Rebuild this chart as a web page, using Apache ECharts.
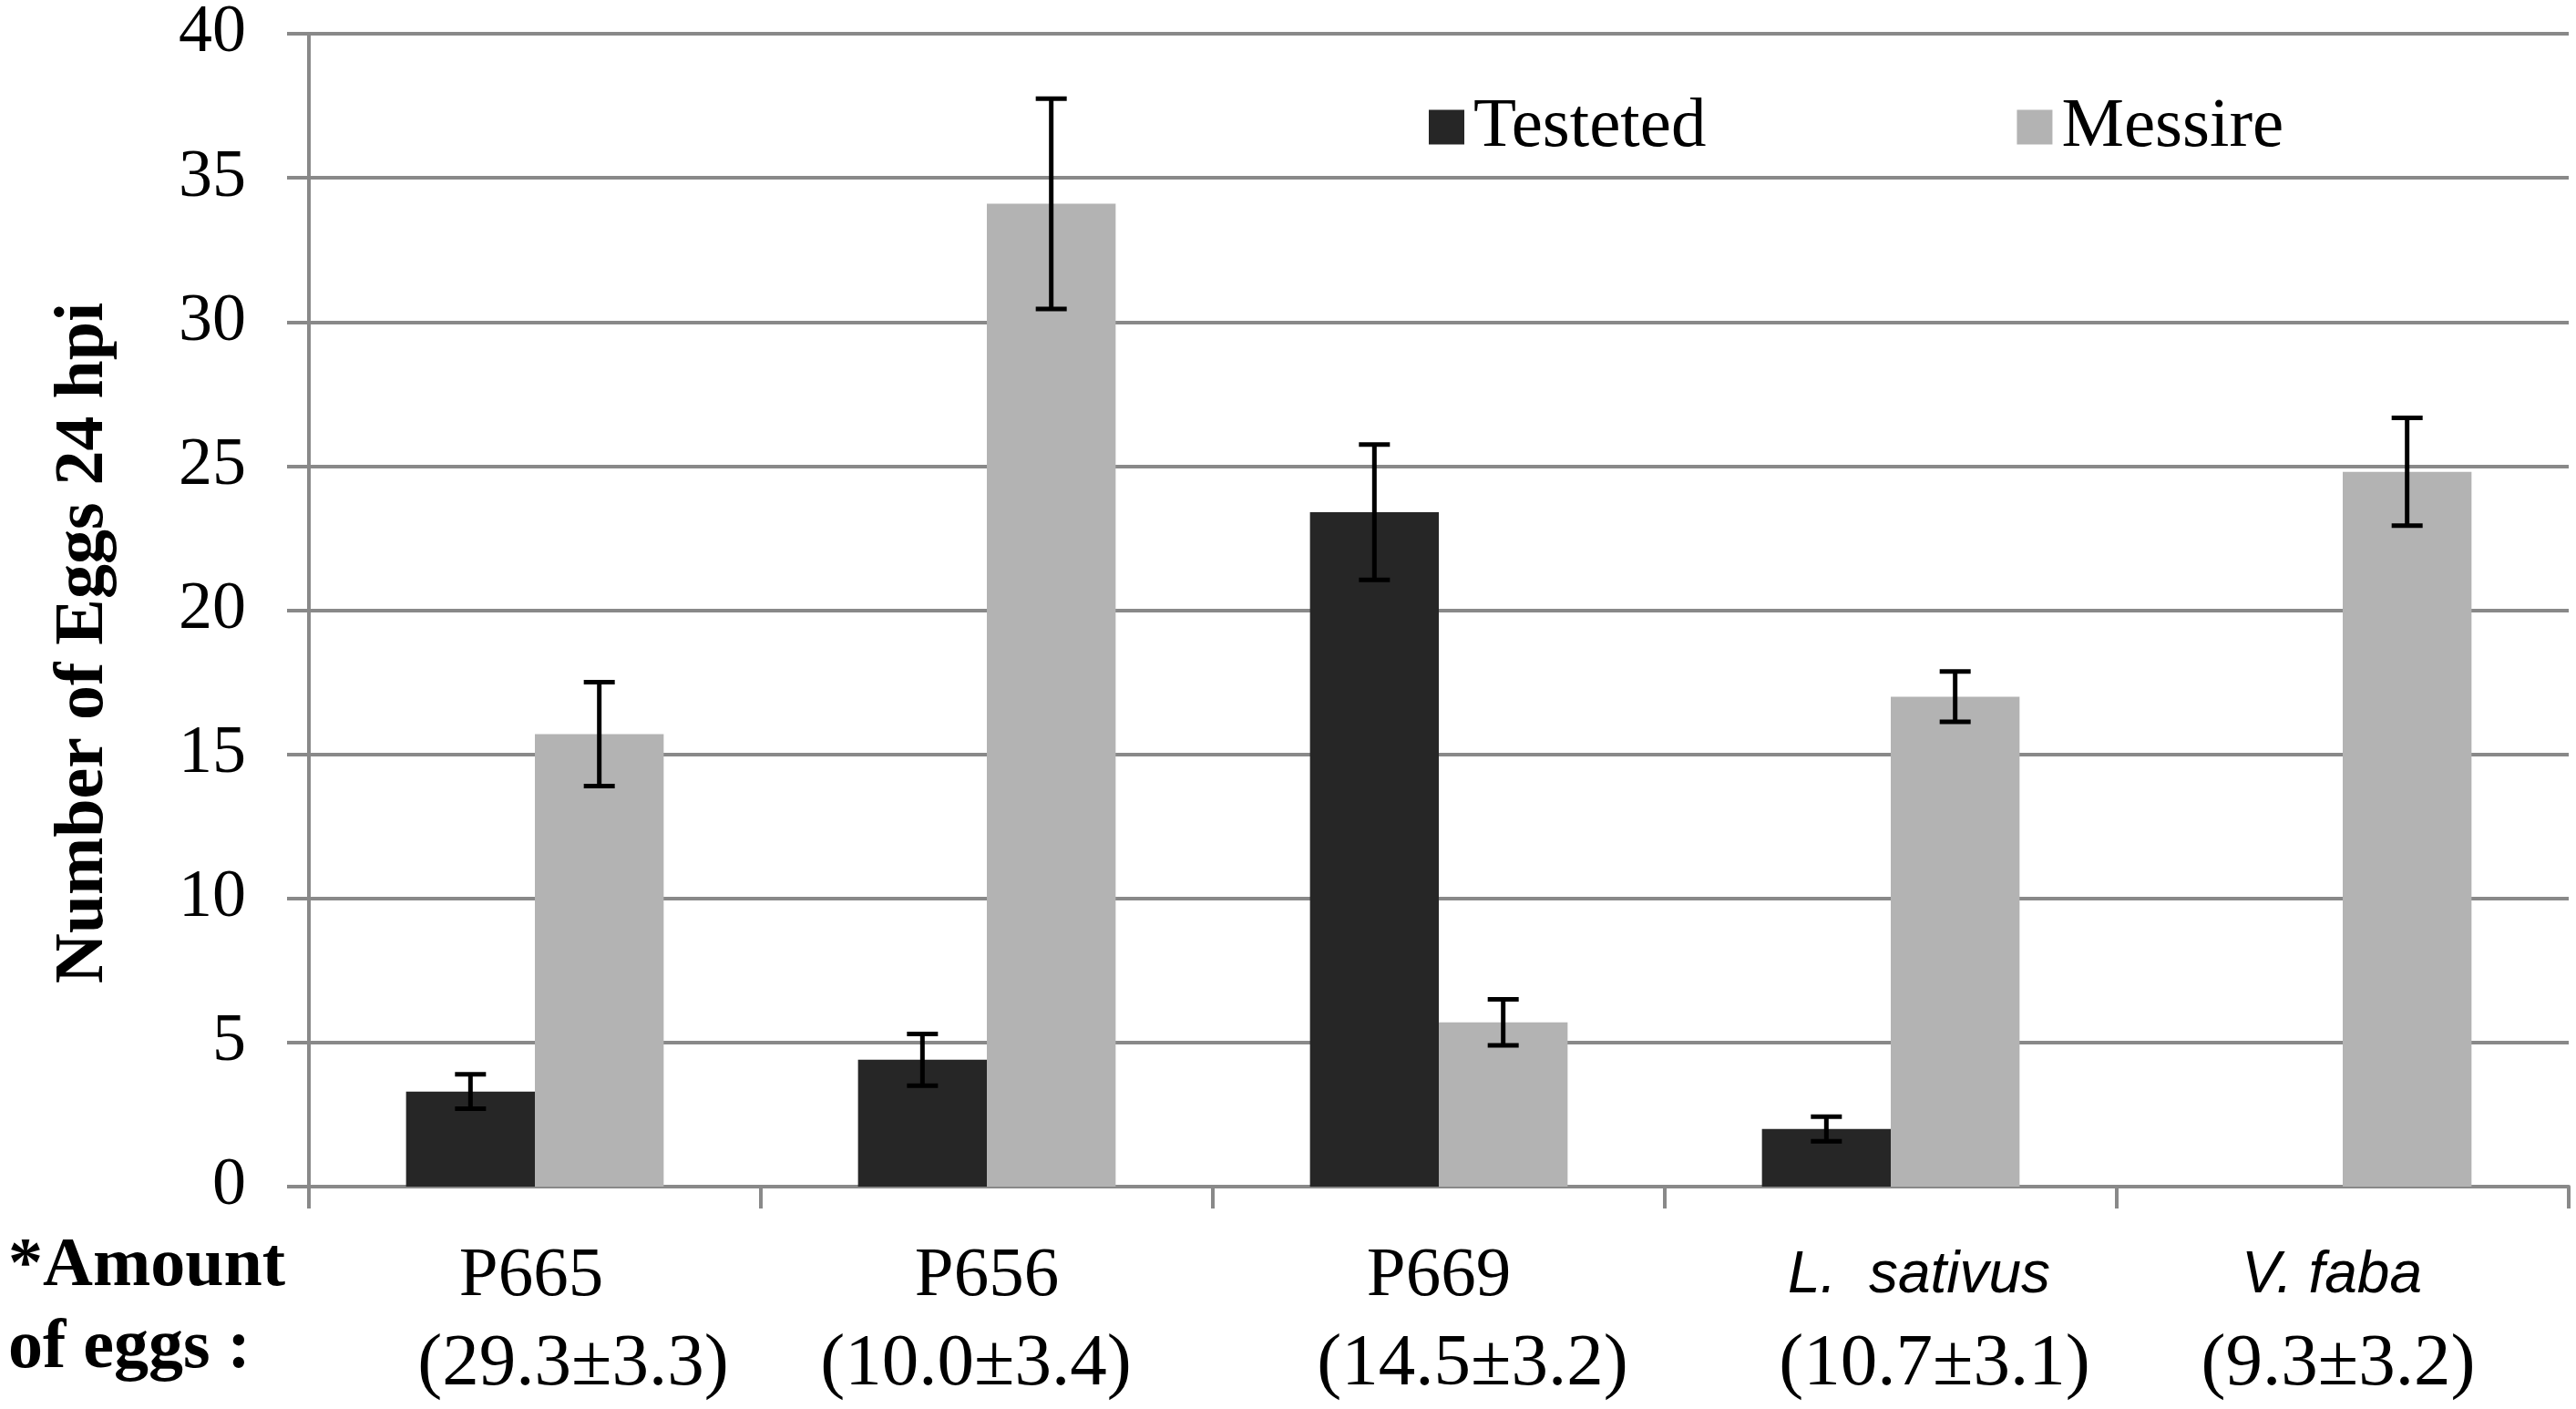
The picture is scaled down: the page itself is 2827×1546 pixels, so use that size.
<!DOCTYPE html>
<html>
<head>
<meta charset="utf-8">
<script src="https://cdn.jsdelivr.net/npm/echarts@6/dist/echarts.min.js"></script>
<style>
  html, body { margin: 0; padding: 0; background: #fff; }
  #main { width: 2827px; height: 1546px; }
</style>
</head>
<body>
<div id="main"></div>
<script>
// 数据
const categories = ['P665', 'P656', 'P669', 'L.  sativus', 'V. faba'];
const amounts = ['(29.3±3.3)', '(10.0±3.4)', '(14.5±3.2)', '(10.7±3.1)', '(9.3±3.2)'];
const italicCats = ['L.  sativus', 'V. faba'];
const testeted = [3.3, 4.4, 23.4, 2.0, 0];
const testetedErr = [0.6, 0.9, 2.35, 0.43, null];
const messire = [15.7, 34.1, 5.7, 17.0, 24.8];
const messireErr = [1.8, 3.65, 0.8, 0.87, 1.87];
const yTicks = { min: 0, max: 40, interval: 5 };

// 版式: 标签相对类别中心的水平偏移(像素)
const nameShift = [-4, 0, 0, 31, -12];
const amountShift = [42, -12, 37, 48, -5];

const serif = 'Liberation Serif';
const catGap = 0.43;

// 误差线数据 [类别, 下限, 上限, 偏移方向]
function errData(vals, errs, side) {
    const out = [];
    vals.forEach((v, i) => {
        if (errs[i] == null) return;
        out.push([i, v - errs[i], v + errs[i], side]);
    });
    return out;
}

function renderErr(params, api) {
    const x = api.value(0);
    const catW = api.size([1, 0])[0];
    const barW = catW * (1 - catGap) / 2;
    const dx = api.value(3) * barW / 2;
    const lo = api.coord([x, api.value(1)]);
    const hi = api.coord([x, api.value(2)]);
    const cx = lo[0] + dx;
    const cap = 17;
    const style = { stroke: '#000', lineWidth: 5 };
    return {
        type: 'group',
        children: [
            { type: 'line', shape: { x1: cx, y1: hi[1], x2: cx, y2: lo[1] }, style },
            { type: 'line', shape: { x1: cx - cap, y1: hi[1], x2: cx + cap, y2: hi[1] }, style },
            { type: 'line', shape: { x1: cx - cap, y1: lo[1], x2: cx + cap, y2: lo[1] }, style }
        ]
    };
}

function shiftPad(s) {
    return s >= 0 ? [0, 0, 0, 2 * s] : [0, -2 * s, 0, 0];
}

// 每个类别的富文本样式
const rich = {};
categories.forEach((c, i) => {
    const italic = italicCats.includes(c);
    rich['a' + i] = italic
        ? { fontFamily: 'Liberation Sans', fontStyle: 'italic', fontSize: 64,
            lineHeight: 97, color: '#000', padding: shiftPad(nameShift[i]) }
        : { fontFamily: serif, fontSize: 77, lineHeight: 97, color: '#000', padding: shiftPad(nameShift[i]) };
    rich['b' + i] = { fontFamily: serif, fontSize: 81, lineHeight: 97, color: '#000', padding: shiftPad(amountShift[i]) };
});

const chart = echarts.init(document.getElementById('main'));

const option = {
    backgroundColor: '#fff',
    animation: false,
    textStyle: { fontFamily: serif, color: '#000' },
    grid: { left: 339, right: 8, top: 32, bottom: 244 },
    legend: {
        data: ['Testeted', 'Messire'],
        left: 1563,
        top: 96,
        icon: 'rect',
        itemWidth: 39,
        itemHeight: 38,
        itemGap: 341,
        textStyle: { fontFamily: serif, fontSize: 77, color: '#000', padding: [0, 0, 0, 5] }
    },
    xAxis: {
        type: 'category',
        data: categories,
        axisLine: { lineStyle: { color: '#898989', width: 4 } },
        axisTick: { show: true, length: 24, lineStyle: { color: '#898989', width: 4 } },
        axisLabel: {
            margin: 50,
            interval: 0,
            formatter: (v, i) => '{a' + i + '|' + v + '}\n{b' + i + '|' + amounts[i] + '}',
            rich: rich
        }
    },
    yAxis: {
        type: 'value',
        min: yTicks.min,
        max: yTicks.max,
        interval: yTicks.interval,
        name: 'Number of Eggs 24 hpi',
        nameLocation: 'middle',
        nameGap: 209,
        nameTextStyle: { fontFamily: serif, fontSize: 76, fontWeight: 'bold', color: '#000', padding: [0, 72, 0, 0] },
        axisLine: { show: true, lineStyle: { color: '#898989', width: 4 } },
        axisTick: { show: true, length: 24, lineStyle: { color: '#898989', width: 4 } },
        axisLabel: { margin: 69, fontFamily: serif, fontSize: 74, color: '#000' },
        splitLine: { show: true, lineStyle: { color: '#898989', width: 4 } }
    },
    graphic: [
        {
            type: 'text', left: 9, top: 1352,
            style: { text: '*Amount', fontFamily: serif, fontSize: 76, fontWeight: 'bold', fill: '#000' }
        },
        {
            type: 'text', left: 9, top: 1442,
            style: { text: 'of eggs :', fontFamily: serif, fontSize: 76, fontWeight: 'bold', fill: '#000' }
        }
    ],
    series: [
        {
            name: 'Testeted', type: 'bar', data: testeted,
            barGap: '0%', barCategoryGap: (catGap * 100) + '%',
            itemStyle: { color: '#262626' }
        },
        {
            name: 'Messire', type: 'bar', data: messire,
            barGap: '0%', barCategoryGap: (catGap * 100) + '%',
            itemStyle: { color: '#b3b3b3' }
        },
        {
            type: 'custom', renderItem: renderErr, data: errData(testeted, testetedErr, -1),
            encode: { x: 0, y: [1, 2] }, z: 10, silent: true
        },
        {
            type: 'custom', renderItem: renderErr, data: errData(messire, messireErr, 1),
            encode: { x: 0, y: [1, 2] }, z: 10, silent: true
        }
    ]
};

chart.setOption(option);
</script>
</body>
</html>
